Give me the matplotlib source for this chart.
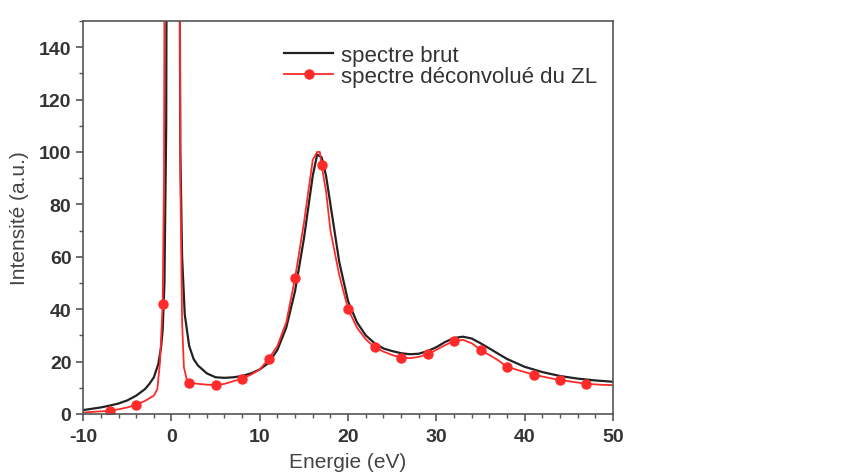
import matplotlib.pyplot as plt
from matplotlib.ticker import MultipleLocator

plt.rcParams['font.family'] = ['Liberation Sans', 'DejaVu Sans']
plt.rcParams['axes.unicode_minus'] = False

# spectre brut (black)
brut_x = [-10, -9, -8, -7, -6, -5, -4, -3, -2.5, -2, -1.5, -1.2, -1.0, -0.8, -0.6, -0.4,
          0.0, 0.5, 0.8, 0.9, 1.0, 1.2, 1.5, 2, 2.5, 3, 4, 5, 6, 7, 8, 9, 10, 11, 12, 13,
          14, 15, 15.5, 16, 16.5, 17, 17.5, 18, 19, 20, 21, 22, 23, 24, 25, 26, 27, 28,
          29, 30, 31, 32, 33, 34, 35, 36, 37, 38, 40, 42, 44, 46, 48, 50]
brut_y = [1.5, 2, 2.5, 3.2, 4, 5.2, 7, 9.5, 11.5, 14, 19, 25, 32, 50, 110, 400,
          900, 900, 400, 200, 100, 60, 38, 26, 21, 18.5, 15.5, 14, 13.8, 14, 14.5, 15.5, 17, 19.5, 24.5, 33,
          47, 67, 79, 91, 99, 98, 91, 80, 58, 43, 35, 30, 27, 25, 24, 23.2, 22.8, 23, 24, 25.5, 27.5, 29, 29.5, 28.8, 27, 25, 23, 21,
          18, 16, 14.5, 13.5, 12.8, 12.3]

# spectre deconvolue du ZL (red)
dec_x = [-10, -9, -8, -7, -6, -5, -4, -3, -2, -1.6, -1.3, -1.0, -0.85, -0.7, -0.5,
         0.0, 0.5, 0.8, 0.9, 1.0, 1.2, 1.4, 1.7, 2, 3, 4, 5, 6, 7, 8, 9, 10, 11, 12, 13,
         14, 15, 15.5, 16, 16.5, 16.8, 17, 17.5, 18, 19, 20, 21, 22, 23, 24, 25, 26, 27, 28,
         29, 30, 31, 32, 33, 34, 35, 36, 37, 38, 39, 40, 41, 42, 43, 44, 45, 46, 47, 48, 49, 50]
dec_y = [0.5, 0.8, 1, 1.2, 1.8, 2.5, 3.5, 5, 7, 9.5, 20, 42, 90, 300, 900,
         900, 900, 500, 250, 90, 35, 18, 13.5, 12, 11.5, 11.2, 11, 11.5, 12.5, 13.5, 15, 17, 21, 26, 35,
         52, 73, 85, 97, 100, 100, 95, 85, 70, 53, 40, 33, 28.5, 25.5, 23.8, 22.5, 21.5, 21.3, 21.8,
         22.8, 24.5, 26.3, 27.8, 28.3, 27, 24.5, 22.5, 20.5, 18, 17, 16, 15, 14.3, 13.6, 13, 12.5, 12, 11.5, 11.3, 11.1, 11]

marker_x = [-7, -4, -1.0, 2, 5, 8, 11, 14, 17, 20, 23, 26, 29, 32, 35, 38, 41, 44, 47]
marker_idx = [dec_x.index(v) for v in marker_x]

fig = plt.figure(figsize=(8.49, 4.77), dpi=100)
ax = fig.add_axes([0.098, 0.130, 0.624, 0.824])

grey = '#555555'
ax.plot(brut_x, brut_y, color='#222222', lw=1.6, label='spectre brut')
ax.plot(dec_x, dec_y, color='#ff2a2a', lw=1.3, marker='o', ms=6.5,
        markevery=marker_idx, label='spectre déconvolué du ZL')

ax.set_xlim(-10, 50)
ax.set_ylim(0, 150)
ax.xaxis.set_major_locator(MultipleLocator(10))
ax.xaxis.set_minor_locator(MultipleLocator(2))
ax.yaxis.set_minor_locator(MultipleLocator(10))
ax.set_yticks([0, 20, 40, 60, 80, 100, 120, 140])
ax.tick_params(which='major', direction='out', length=5, width=1.2, color=grey,
               labelsize=14, labelcolor='#333333')
ax.tick_params(axis='x', which='major', pad=5)
ax.tick_params(which='minor', direction='out', length=3, width=1, color=grey)
for lab in ax.get_xticklabels() + ax.get_yticklabels():
    lab.set_fontweight('bold')
for s in ax.spines.values():
    s.set_color(grey)
    s.set_linewidth(1.2)

ax.set_xlabel('Energie (eV)', fontsize=15, color='#444444', labelpad=5)
ax.set_ylabel('Intensité (a.u.)', fontsize=15, color='#444444', labelpad=7)

leg = ax.legend(loc='upper left', bbox_to_anchor=(0.342, 0.99), frameon=False,
                fontsize=16, handlelength=2.2, handletextpad=0.35, labelspacing=0.0)
for t in leg.get_texts():
    t.set_color('#333333')

fig.savefig('out.png', dpi=100)
